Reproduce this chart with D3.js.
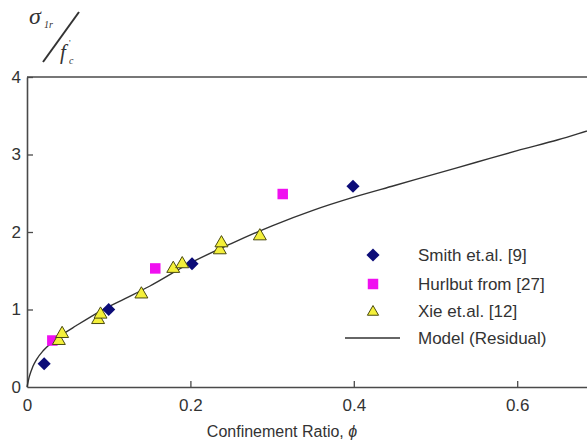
<!DOCTYPE html>
<html><head><meta charset="utf-8">
<script src="https://cdn.jsdelivr.net/npm/d3@7"></script>
<style>
body{margin:0;background:#fff;overflow:hidden;}
svg{display:block;}
text{font-family:"Liberation Sans",Arial,Helvetica,sans-serif;fill:#333;}
</style>
</head><body><svg id="c" width="587" height="447"></svg>
<script>
// ---- data ----
const smithX = [0.021, 0.100, 0.202, 0.399];
const smithY = [0.30, 1.00, 1.59, 2.59];
const hurlX = [0.031, 0.157, 0.313];
const hurlY = [0.60, 1.53, 2.49];
const xieX = [0.039, 0.043, 0.087, 0.090, 0.140, 0.179, 0.190, 0.236, 0.238, 0.285];
const xieY = [0.61, 0.70, 0.88, 0.95, 1.21, 1.54, 1.60, 1.78, 1.87, 1.96];
const modelX = [0, 0.003, 0.007, 0.012, 0.02, 0.03, 0.045, 0.06, 0.09, 0.12, 0.15, 0.2, 0.25, 0.3, 0.35, 0.4, 0.45, 0.5, 0.55, 0.6, 0.65, 0.7, 0.75, 0.8];
const modelY = [0, 0.14, 0.26, 0.36, 0.47, 0.57, 0.69, 0.79, 0.98, 1.14, 1.30, 1.60, 1.85, 2.08, 2.28, 2.45, 2.60, 2.75, 2.90, 3.05, 3.19, 3.35, 3.49, 3.62];
const xTicks = [0, 0.2, 0.4, 0.6];
const yTicks = [0, 1, 2, 3, 4];
const legendLabels = ["Smith et.al. [9]", "Hurlbut from [27]", "Xie et.al. [12]", "Model (Residual)"];
const xTitle = "Confinement Ratio, ";

// ---- layout ----
const svg = d3.select("#c");
const x0 = 27, y0 = 387, yTop = 77;
const x = d3.scaleLinear().domain([0, 0.8]).range([x0, x0 + 0.8 * 817]);
const y = d3.scaleLinear().domain([0, 4]).range([y0, yTop]);
const axisColor = "#4a4a4a";

// frame top
svg.append("line").attr("x1", x0).attr("x2", 700).attr("y1", yTop).attr("y2", yTop)
  .attr("stroke", axisColor).attr("stroke-width", 1.6);

// axes
const gx = svg.append("g").attr("transform", `translate(0,${y0})`)
  .call(d3.axisBottom(x).tickValues(xTicks).tickSizeInner(-6).tickSizeOuter(0).tickPadding(12)
    .tickFormat(d => d === 0 ? "0" : d3.format(".1f")(d)));
const gy = svg.append("g").attr("transform", `translate(${x0},0)`)
  .call(d3.axisLeft(y).tickValues(yTicks).tickSizeInner(-6).tickSizeOuter(0).tickPadding(6)
    .tickFormat(d3.format("d")));
[gx, gy].forEach(g => {
  g.select(".domain").attr("stroke", axisColor).attr("stroke-width", 1.6);
  g.selectAll(".tick line").attr("stroke", axisColor).attr("stroke-width", 1.3);
  g.selectAll(".tick text").attr("font-size", 17).attr("fill", "#333")
    .style("font-family", '"Liberation Sans",Arial,sans-serif');
});
gy.selectAll(".tick").filter(d => d === 0).select("line").remove();
gx.selectAll(".tick").filter(d => d === 0).select("line").remove();

// model line
const model = modelX.map((v, i) => [v, modelY[i]]);
svg.append("path").datum(model)
  .attr("d", d3.line().x(d => x(d[0])).y(d => y(d[1])).curve(d3.curveMonotoneX))
  .attr("fill", "none").attr("stroke", "#333").attr("stroke-width", 1.4);

// markers
const diamond = d3.symbol().type(d3.symbolDiamond2).size(110);
const square = d3.symbol().type(d3.symbolSquare2).size(140);
const tri = d3.symbol().type(d3.symbolTriangle2).size(120);

svg.append("g").selectAll("path").data(smithX.map((v, i) => [v, smithY[i]])).join("path")
  .attr("d", diamond).attr("transform", d => `translate(${x(d[0])},${y(d[1])})`)
  .attr("fill", "#0c0c78");
svg.append("g").selectAll("path").data(hurlX.map((v, i) => [v, hurlY[i]])).join("path")
  .attr("d", square).attr("transform", d => `translate(${x(d[0])},${y(d[1])})`)
  .attr("fill", "#f00ff0");
svg.append("g").selectAll("path").data(xieX.map((v, i) => [v, xieY[i]])).join("path")
  .attr("d", tri).attr("transform", d => `translate(${x(d[0])},${y(d[1]) + 1})`)
  .attr("fill", "#f4f03a").attr("stroke", "#4a4a10").attr("stroke-width", 1);

// legend
const lgX = 373, lgY = [255, 284, 311, 338];
const lg = svg.append("g");
lg.append("path").attr("d", diamond).attr("transform", `translate(${lgX},${lgY[0]})`).attr("fill", "#0c0c78");
lg.append("path").attr("d", square).attr("transform", `translate(${lgX},${lgY[1]})`).attr("fill", "#f00ff0");
lg.append("path").attr("d", d3.symbol().type(d3.symbolTriangle2).size(90)).attr("transform", `translate(${lgX},${lgY[2] + 1})`)
  .attr("fill", "#f4f03a").attr("stroke", "#4a4a10").attr("stroke-width", 1);
lg.append("line").attr("x1", 345).attr("x2", 400).attr("y1", lgY[3]).attr("y2", lgY[3])
  .attr("stroke", "#333").attr("stroke-width", 1.4);
lg.selectAll("text").data(legendLabels).join("text")
  .attr("x", 418).attr("y", (d, i) => lgY[i]).attr("dy", "0.36em")
  .attr("font-size", 17).text(d => d);

// x title
const xt = svg.append("text").attr("x", 282).attr("y", 437).attr("text-anchor", "middle")
  .attr("font-size", 16);
xt.append("tspan").text(xTitle);
xt.append("tspan").attr("font-style", "italic").text("\u03D5");

// y title (sigma_1r / f'_c)
const serif = '"Liberation Serif","DejaVu Serif",serif';
svg.append("text").attr("x", 29).attr("y", 24).attr("font-size", 24).style("font-family", serif)
  .attr("font-style", "italic").text("\u03C3");
svg.append("text").attr("x", 44).attr("y", 28).attr("font-size", 10).style("font-family", serif)
  .attr("font-style", "italic").text("1r");
svg.append("line").attr("x1", 43).attr("y1", 62).attr("x2", 79).attr("y2", 12)
  .attr("stroke", "#333").attr("stroke-width", 2);
svg.append("text").attr("x", 60).attr("y", 59).attr("font-size", 21).style("font-family", serif)
  .attr("font-style", "italic").text("f");
svg.append("text").attr("x", 69).attr("y", 46).attr("font-size", 9).style("font-family", serif)
  .text("'");
svg.append("text").attr("x", 69).attr("y", 64).attr("font-size", 10).style("font-family", serif)
  .attr("font-style", "italic").text("c");
</script>
</body></html>
